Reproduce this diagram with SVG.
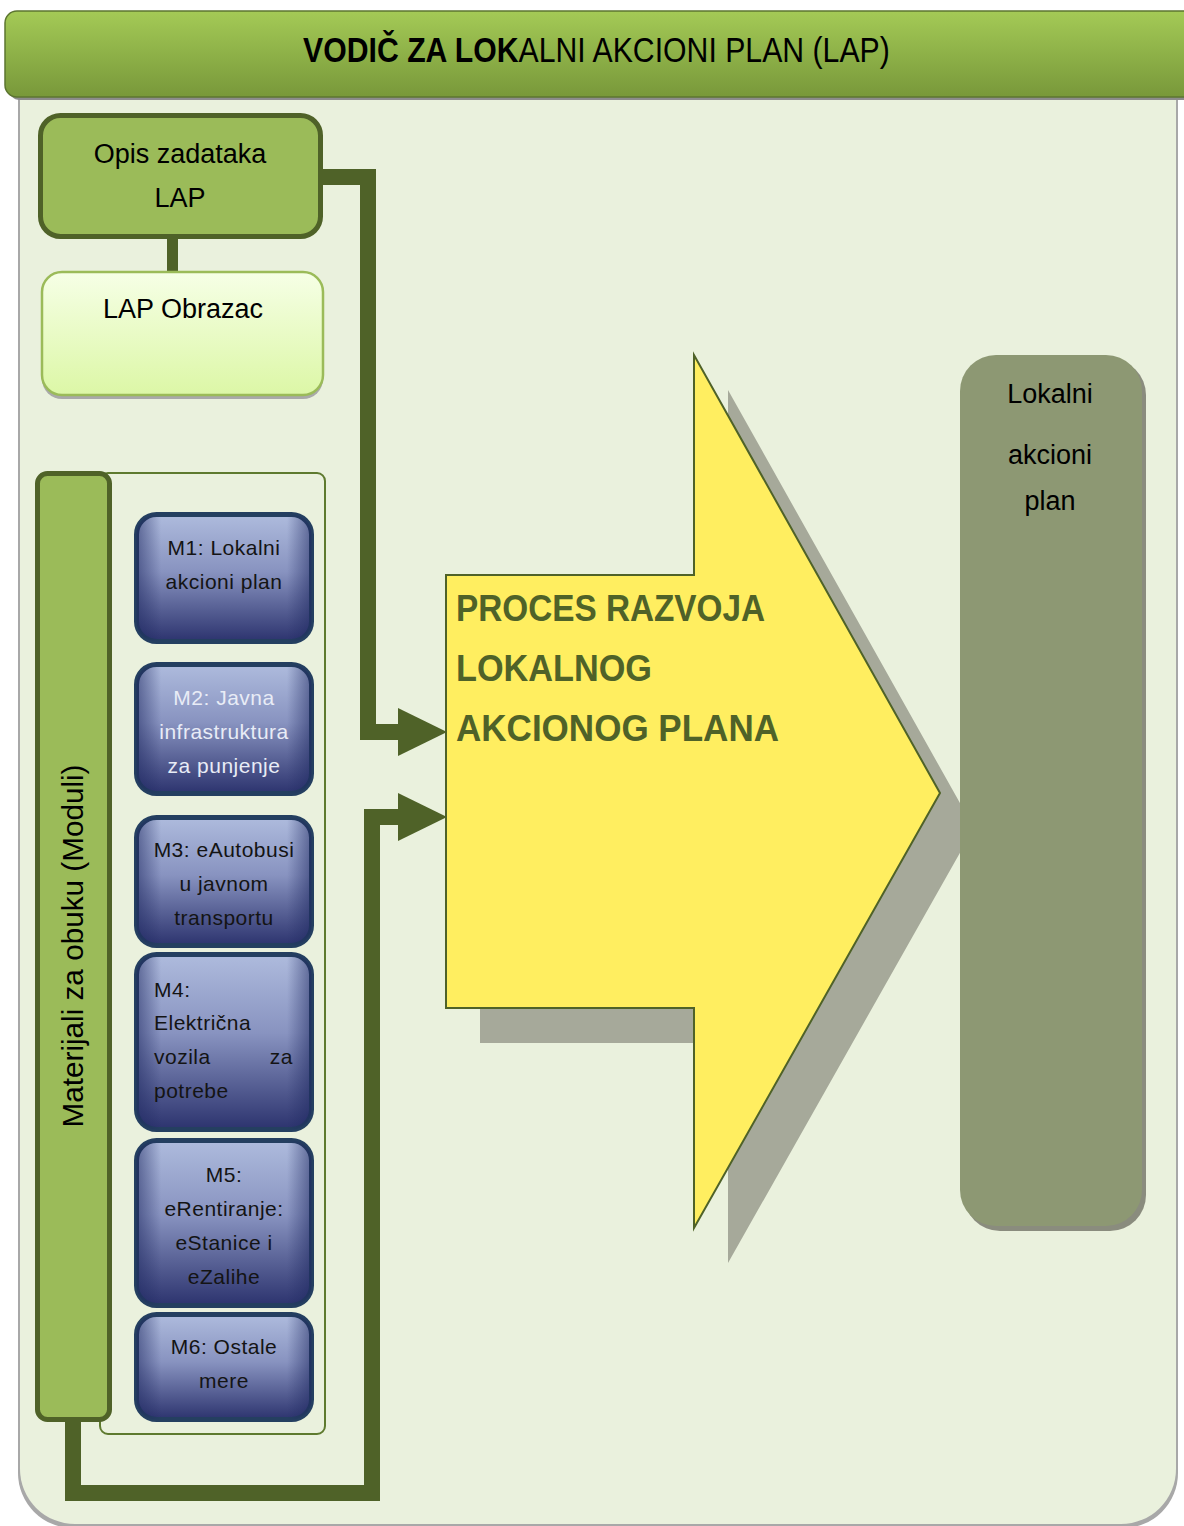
<svg xmlns="http://www.w3.org/2000/svg" width="1184" height="1526" viewBox="0 0 1184 1526">
<defs>
  <linearGradient id="titleGrad" x1="0" y1="0" x2="0" y2="1">
    <stop offset="0" stop-color="#A4CA56"/>
    <stop offset="1" stop-color="#78983A"/>
  </linearGradient>
  <linearGradient id="formGrad" x1="0" y1="0" x2="0" y2="1">
    <stop offset="0" stop-color="#F6FFE6"/>
    <stop offset="1" stop-color="#DCF7A6"/>
  </linearGradient>
  <linearGradient id="modV" x1="0" y1="0" x2="0" y2="1">
    <stop offset="0" stop-color="#AEBBDD"/>
    <stop offset="0.45" stop-color="#8893C0"/>
    <stop offset="1" stop-color="#2C336E"/>
  </linearGradient>
  <linearGradient id="modH" x1="0" y1="0" x2="1" y2="0">
    <stop offset="0" stop-color="#1E2860" stop-opacity="0.55"/>
    <stop offset="0.14" stop-color="#1E2860" stop-opacity="0"/>
    <stop offset="0.86" stop-color="#1E2860" stop-opacity="0"/>
    <stop offset="1" stop-color="#1E2860" stop-opacity="0.55"/>
  </linearGradient>
</defs>
<style>
  .f { font-family: "Liberation Sans", Arial, sans-serif; }
  .conn { fill: none; stroke: #4F6228; stroke-width: 16; stroke-linejoin: miter; }
  .head { fill: #4F6228; }
  .mod { stroke: #243F60; stroke-width: 5; }
  .modtxt { font-family: "Liberation Sans", Arial, sans-serif; font-size: 21px; letter-spacing: 0.5px; fill: #141414; text-anchor: middle; }
  .lbl { font-family: "Liberation Sans", Arial, sans-serif; font-size: 27px; fill: #000; text-anchor: middle; }
</style>

<rect x="0" y="0" width="1184" height="1526" fill="#FFFFFF"/>
<!-- background panel -->
<path d="M18,94 H1178 V1473 A55,55 0 0 1 1123,1528 H73 A55,55 0 0 1 18,1473 Z" fill="#A8A8A8"/>
<path d="M20,90 H1176 V1469 A55,55 0 0 1 1121,1524 H75 A55,55 0 0 1 20,1469 Z" fill="#EAF1DD"/>

<!-- title -->
<g id="title">
  <rect x="8" y="14" width="1200" height="86" rx="12" fill="#8C8C8C"/>
  <rect x="5" y="11" width="1200" height="86" rx="12" fill="url(#titleGrad)" stroke="#5C7530" stroke-width="1.5"/>
  <text class="f" transform="translate(303,62) scale(0.84,1)" x="0" y="0" font-size="36" fill="#000"><tspan font-weight="bold">VODIČ ZA LOK</tspan><tspan>ALNI AKCIONI PLAN (LAP)</tspan></text>
</g>

<!-- connectors -->
<g id="connectors">
  <rect x="167" y="236" width="11" height="38" fill="#4F6228"/>
  <polyline class="conn" points="318,177 368,177 368,732 402,732"/>
  <polygon class="head" points="398,708 447,732 398,756"/>
  <polyline class="conn" points="73,1415 73,1493 372,1493 372,817 402,817"/>
  <polygon class="head" points="398,793 447,817 398,841"/>
</g>

<!-- Opis zadataka -->
<g id="opis">
  <rect x="40.5" y="115.5" width="280" height="121" rx="20" fill="#9BBB59" stroke="#4F6228" stroke-width="5"/>
  <text class="lbl" x="180" y="163">Opis zadataka</text>
  <text class="lbl" x="180" y="207">LAP</text>
</g>

<!-- LAP Obrazac -->
<g id="obrazac">
  <rect x="42" y="276" width="281" height="123" rx="20" fill="#A9A9A9"/>
  <rect x="42" y="272" width="281" height="123" rx="20" fill="url(#formGrad)" stroke="#9BBB59" stroke-width="2.5"/>
  <text class="lbl" x="183" y="318">LAP Obrazac</text>
</g>

<!-- modules container and bar -->
<g id="materijali">
  <rect x="100" y="473" width="225" height="961" rx="8" fill="none" stroke="#5E7A2E" stroke-width="2"/>
  <rect x="37.5" y="473.5" width="72" height="946" rx="10" fill="#9BBB59" stroke="#4F6228" stroke-width="5"/>
  <text class="f" transform="translate(83,946) rotate(-90)" font-size="29.5" text-anchor="middle" fill="#000" textLength="363" lengthAdjust="spacingAndGlyphs">Materijali za obuku (Moduli)</text>
</g>

<g id="m1">
  <rect class="mod" x="136.5" y="514.5" width="175" height="127" rx="20" fill="url(#modV)"/>
  <rect x="136.5" y="514.5" width="175" height="127" rx="20" fill="url(#modH)"/>
  <text class="modtxt" x="224" y="555">M1: Lokalni</text>
  <text class="modtxt" x="224" y="589">akcioni plan</text>
</g>
<g id="m2">
  <rect class="mod" x="136.5" y="664.5" width="175" height="129" rx="20" fill="url(#modV)"/>
  <rect x="136.5" y="664.5" width="175" height="129" rx="20" fill="url(#modH)"/>
  <text class="modtxt" x="224" y="705" style="fill:#E8ECF6">M2: Javna</text>
  <text class="modtxt" x="224" y="739" style="fill:#E8ECF6">infrastruktura</text>
  <text class="modtxt" x="224" y="773" style="fill:#E8ECF6">za punjenje</text>
</g>
<g id="m3">
  <rect class="mod" x="136.5" y="817.5" width="175" height="128" rx="20" fill="url(#modV)"/>
  <rect x="136.5" y="817.5" width="175" height="128" rx="20" fill="url(#modH)"/>
  <text class="modtxt" x="224" y="857">M3: eAutobusi</text>
  <text class="modtxt" x="224" y="891">u javnom</text>
  <text class="modtxt" x="224" y="925">transportu</text>
</g>
<g id="m4">
  <rect class="mod" x="136.5" y="954.5" width="175" height="175" rx="20" fill="url(#modV)"/>
  <rect x="136.5" y="954.5" width="175" height="175" rx="20" fill="url(#modH)"/>
  <text class="modtxt" x="154" y="997" style="text-anchor:start">M4:</text>
  <text class="modtxt" x="154" y="1030" style="text-anchor:start">Električna</text>
  <text class="modtxt" x="154" y="1064" style="text-anchor:start">vozila</text>
  <text class="modtxt" x="293" y="1064" style="text-anchor:end">za</text>
  <text class="modtxt" x="154" y="1098" style="text-anchor:start">potrebe</text>
</g>
<g id="m5">
  <rect class="mod" x="136.5" y="1140.5" width="175" height="165" rx="20" fill="url(#modV)"/>
  <rect x="136.5" y="1140.5" width="175" height="165" rx="20" fill="url(#modH)"/>
  <text class="modtxt" x="224" y="1182">M5:</text>
  <text class="modtxt" x="224" y="1216">eRentiranje:</text>
  <text class="modtxt" x="224" y="1250">eStanice i</text>
  <text class="modtxt" x="224" y="1284">eZalihe</text>
</g>
<g id="m6">
  <rect class="mod" x="136.5" y="1314.5" width="175" height="105" rx="20" fill="url(#modV)"/>
  <rect x="136.5" y="1314.5" width="175" height="105" rx="20" fill="url(#modH)"/>
  <text class="modtxt" x="224" y="1354">M6: Ostale</text>
  <text class="modtxt" x="224" y="1388">mere</text>
</g>

<!-- big process arrow -->
<g id="proces">
  <polygon points="480,610 728,610 728,390 974,828 728,1263 728,1043 480,1043" fill="#A6A99A"/>
  <polygon points="446,575 694,575 694,355 940,793 694,1228 694,1008 446,1008" fill="#FFEE60" stroke="#4F6228" stroke-width="2"/>
  <text class="f" x="456" y="621" font-size="37" font-weight="bold" fill="#4F6228" textLength="309" lengthAdjust="spacingAndGlyphs">PROCES RAZVOJA</text>
  <text class="f" x="456" y="681" font-size="37" font-weight="bold" fill="#4F6228" textLength="196" lengthAdjust="spacingAndGlyphs">LOKALNOG</text>
  <text class="f" x="456" y="741" font-size="37" font-weight="bold" fill="#4F6228" textLength="323" lengthAdjust="spacingAndGlyphs">AKCIONOG PLANA</text>
</g>

<!-- Lokalni akcioni plan -->
<g id="lokalni">
  <rect x="964" y="359" width="182" height="872" rx="36" fill="#8A8C7E"/>
  <rect x="960" y="355" width="182" height="871" rx="36" fill="#8D9873"/>
  <text class="lbl" x="1050" y="403">Lokalni</text>
  <text class="lbl" x="1050" y="464">akcioni</text>
  <text class="lbl" x="1050" y="510">plan</text>
</g>
</svg>
